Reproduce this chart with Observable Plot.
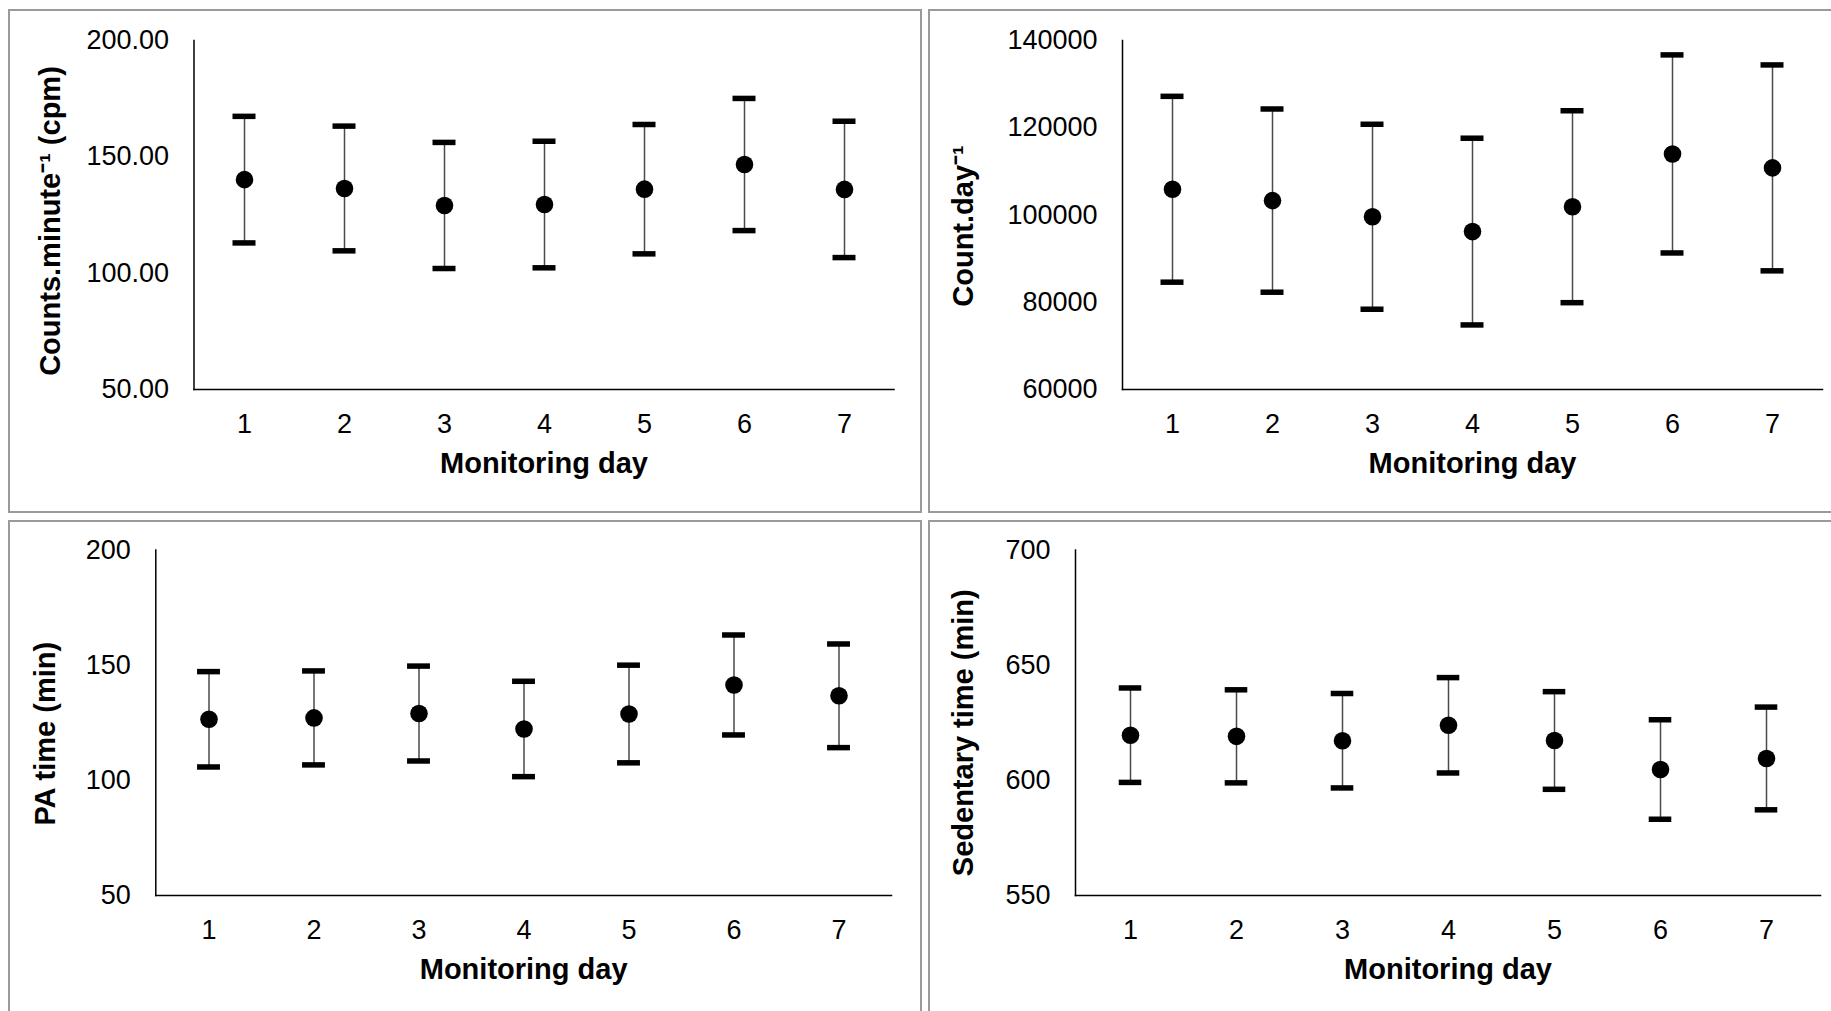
<!DOCTYPE html>
<html><head><meta charset="utf-8">
<script src="https://cdn.jsdelivr.net/npm/d3@7"></script>
<script src="https://cdn.jsdelivr.net/npm/@observablehq/plot@0.6"></script>
<style>
html,body{margin:0;padding:0;background:#fff;width:1831px;height:1011px;overflow:hidden;position:relative;}
.frame{position:absolute;border:2px solid #9a9a9a;box-sizing:border-box;}
.panel{position:absolute;}
</style></head><body>
<script>
// ---- data ----
const days = [1, 2, 3, 4, 5, 6, 7];

const cpmMean = [140.2, 136.4, 129.1, 129.5, 136.1, 146.7, 136.0];
const cpmSD   = [27.2, 26.8, 27.1, 27.2, 27.8, 28.4, 29.3];

const countMean = [105900, 103300, 99600, 96200, 101900, 114000, 110800];
const countSD   = [21300, 21000, 21200, 21400, 22000, 22700, 23600];

const paMean = [126.5, 127.1, 129.0, 122.3, 128.8, 141.4, 136.7];
const paSD   = [20.7, 20.4, 20.6, 20.7, 21.2, 21.7, 22.5];

const sedMean = [619.6, 619.1, 617.2, 623.9, 617.3, 604.7, 609.5];
const sedSD   = [20.5, 20.2, 20.5, 20.7, 21.2, 21.6, 22.3];

const cpmTicks = [50, 100, 150, 200];
const countTicks = [60000, 80000, 100000, 120000, 140000];
const paTicks = [50, 100, 150, 200];
const sedTicks = [550, 600, 650, 700];

const xTitle = "Monitoring day";
const cpmTitle = "Counts.minute\u207B\u00B9 (cpm)";
const countTitle = "Count.day\u207B\u00B9";
const paTitle = "PA time (min)";
const sedTitle = "Sedentary time (min)";

// ---- layout ----
const FONT = "'Liberation Sans', Arial, Helvetica, sans-serif";

const frames = [
  {left: 8, top: 9, width: 914, height: 504},
  {left: 928, top: 9, width: 1000, height: 504},
  {left: 8, top: 520, width: 914, height: 600},
  {left: 928, top: 520, width: 1000, height: 600}
];
for (const f of frames) {
  const d = document.createElement("div");
  d.className = "frame";
  Object.assign(d.style, {left: f.left + "px", top: f.top + "px", width: f.width + "px", height: f.height + "px"});
  document.body.appendChild(d);
}

function panel(cfg) {
  const rows = days.map((d, i) => ({day: d, mean: cfg.mean[i], lo: cfg.mean[i] - cfg.sd[i], hi: cfg.mean[i] + cfg.sd[i]}));
  const plotW = cfg.width - cfg.mL - cfg.mR;
  const step = plotW / days.length;
  const capInset = (step - 23) / 2;
  const chart = Plot.plot({
    width: cfg.width,
    height: cfg.height,
    marginLeft: cfg.mL,
    marginRight: cfg.mR,
    marginTop: cfg.mT,
    marginBottom: cfg.mB,
    style: {fontFamily: FONT, fontSize: "27px", color: "#000", background: "transparent", overflow: "visible"},
    x: {type: "band", domain: days, padding: 0},
    y: {domain: cfg.domain},
    marks: [
      Plot.axisX({tickSize: 0, tickPadding: 24, label: null, fontSize: 27}),
      Plot.axisY({ticks: cfg.ticks, tickSize: 0, tickPadding: 25, tickFormat: cfg.format, label: null, fontSize: 27}),
      Plot.frame({anchor: "left", stroke: "#000", strokeWidth: 1.5}),
      Plot.frame({anchor: "bottom", stroke: "#000", strokeWidth: 1.5}),
      Plot.ruleX(rows, {x: "day", y1: "lo", y2: "hi", stroke: "#4a4a4a", strokeWidth: 1.5}),
      Plot.tickY(rows, {x: "day", y: "hi", stroke: "#000", strokeWidth: 5.5, insetLeft: capInset, insetRight: capInset}),
      Plot.tickY(rows, {x: "day", y: "lo", stroke: "#000", strokeWidth: 5.5, insetLeft: capInset, insetRight: capInset}),
      Plot.dot(rows, {x: "day", y: "mean", r: 8.8, fill: "#000", stroke: null}),
      Plot.text([cfg.yTitle], {text: d => d, frameAnchor: "left", rotate: -90, dx: cfg.yTitleDx, dy: cfg.yTitleDy,
        fontWeight: "bold", fontSize: 29, textAnchor: "middle", lineAnchor: "middle", fill: "#000"}),
      Plot.text([xTitle], {text: d => d, frameAnchor: "bottom", dy: cfg.xTitleDy,
        fontWeight: "bold", fontSize: 29, textAnchor: "middle", lineAnchor: "middle", fill: "#000"})
    ]
  });
  const wrap = document.createElement("div");
  wrap.className = "panel";
  wrap.style.left = cfg.left + "px";
  wrap.style.top = cfg.top + "px";
  wrap.appendChild(chart);
  document.body.appendChild(wrap);
}

panel({left: 10, top: 11, width: 910, height: 500, mL: 183.5, mR: 26.5, mT: 29, mB: 122,
  mean: cpmMean, sd: cpmSD, domain: [50, 200], ticks: cpmTicks, format: d3.format(".2f"),
  yTitle: cpmTitle, yTitleDx: -143.5, yTitleDy: 6, xTitleDy: 74.6});
panel({left: 930, top: 11, width: 901, height: 500, mL: 192, mR: 9, mT: 29, mB: 122,
  mean: countMean, sd: countSD, domain: [60000, 140000], ticks: countTicks, format: d3.format("d"),
  yTitle: countTitle, yTitleDx: -159, yTitleDy: 11, xTitleDy: 74.6});
panel({left: 10, top: 522, width: 910, height: 489, mL: 145.3, mR: 29, mT: 27.5, mB: 116,
  mean: paMean, sd: paSD, domain: [50, 200], ticks: paTicks, format: d3.format("d"),
  yTitle: paTitle, yTitleDx: -110, yTitleDy: 11, xTitleDy: 74});
panel({left: 930, top: 522, width: 901, height: 489, mL: 145, mR: 11, mT: 27.5, mB: 116,
  mean: sedMean, sd: sedSD, domain: [550, 700], ticks: sedTicks, format: d3.format("d"),
  yTitle: sedTitle, yTitleDx: -112, yTitleDy: 10, xTitleDy: 74});
</script>
</body></html>
